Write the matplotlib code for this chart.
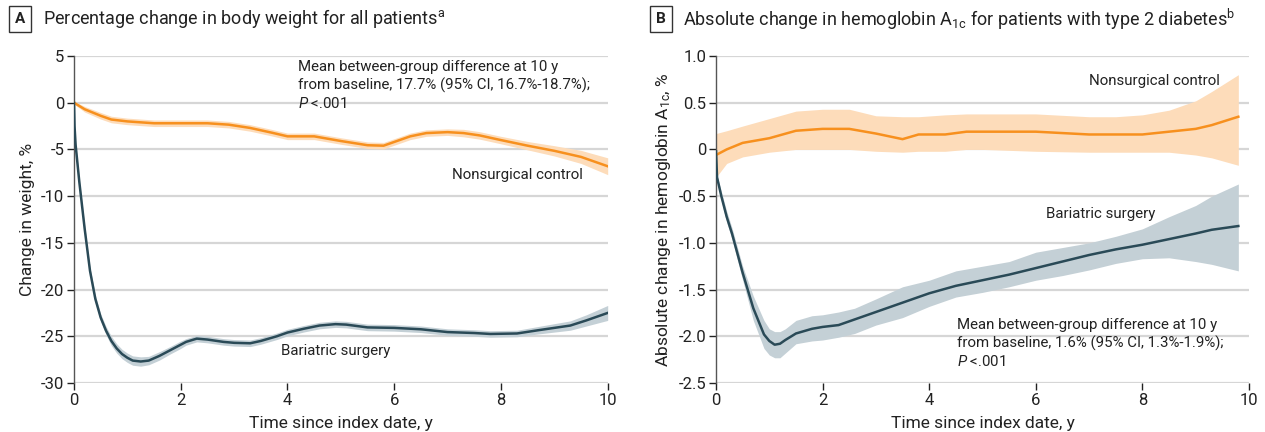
import matplotlib
matplotlib.use("Agg")
import matplotlib.pyplot as plt
import numpy as np

# Panel A: percentage change in body weight
a_ctrl_x = [0, 0.2, 0.5, 0.7, 1.0, 1.5, 2.0, 2.5, 2.9, 3.3, 3.7, 4.0, 4.5, 5.0, 5.5, 5.8, 6.0, 6.3, 6.6, 7.0, 7.3, 7.6, 8.0, 8.5, 9.0, 9.5, 10.0]
a_ctrl_y = [0, -0.7, -1.4, -1.8, -2.0, -2.2, -2.2, -2.2, -2.35, -2.7, -3.2, -3.6, -3.6, -4.1, -4.55, -4.6, -4.2, -3.6, -3.25, -3.15, -3.25, -3.5, -4.0, -4.6, -5.15, -5.8, -6.8]
a_ctrl_ci = [0.15, 0.3, 0.35, 0.35, 0.35, 0.35, 0.35, 0.35, 0.35, 0.35, 0.35, 0.35, 0.35, 0.35, 0.35, 0.35, 0.35, 0.35, 0.35, 0.35, 0.4, 0.4, 0.4, 0.45, 0.55, 0.7, 0.9]

a_surg_x = [0, 0.01, 0.03, 0.1, 0.2, 0.3, 0.4, 0.5, 0.6, 0.7, 0.8, 0.9, 1.0, 1.1, 1.25, 1.4, 1.6, 1.8, 2.0, 2.1, 2.3, 2.5, 2.8, 3.0, 3.3, 3.5, 3.8, 4.0, 4.3, 4.6, 4.9, 5.1, 5.5, 6.0, 6.5, 7.0, 7.5, 7.8, 8.3, 8.7, 9.0, 9.3, 9.6, 10.0]
a_surg_y = [0, -2.5, -4.5, -8.5, -13.5, -18.0, -21.0, -23.0, -24.4, -25.5, -26.3, -26.9, -27.3, -27.6, -27.7, -27.6, -27.1, -26.5, -25.9, -25.6, -25.25, -25.35, -25.6, -25.7, -25.75, -25.5, -25.0, -24.6, -24.2, -23.85, -23.7, -23.75, -24.05, -24.1, -24.25, -24.55, -24.65, -24.75, -24.7, -24.35, -24.1, -23.85, -23.3, -22.5]
a_surg_ci = [0, 0.1, 0.2, 0.3, 0.35, 0.35, 0.4, 0.4, 0.45, 0.5, 0.5, 0.5, 0.5, 0.5, 0.5, 0.45, 0.45, 0.4, 0.4, 0.35, 0.35, 0.35, 0.35, 0.35, 0.35, 0.35, 0.35, 0.35, 0.35, 0.35, 0.35, 0.35, 0.35, 0.35, 0.35, 0.35, 0.35, 0.35, 0.35, 0.4, 0.45, 0.5, 0.6, 0.8]

# Panel B: absolute change in hemoglobin A1c
b_ctrl_x = [0, 0.2, 0.5, 1.0, 1.5, 2.0, 2.5, 3.0, 3.5, 3.8, 4.3, 4.7, 5.0, 6.0, 7.0, 7.5, 8.0, 8.5, 9.0, 9.3, 9.8]
b_ctrl_y = [-0.06, 0.0, 0.07, 0.12, 0.2, 0.22, 0.22, 0.17, 0.11, 0.16, 0.16, 0.19, 0.19, 0.19, 0.16, 0.16, 0.16, 0.19, 0.22, 0.26, 0.35]
b_ctrl_lo = [-0.3, -0.15, -0.08, -0.03, 0.0, 0.0, 0.0, -0.02, -0.03, -0.02, -0.02, 0.0, 0.0, -0.02, -0.03, -0.03, -0.03, -0.03, -0.06, -0.09, -0.17]
b_ctrl_hi = [0.17, 0.2, 0.25, 0.33, 0.41, 0.43, 0.43, 0.36, 0.35, 0.35, 0.37, 0.38, 0.38, 0.38, 0.35, 0.35, 0.37, 0.42, 0.52, 0.62, 0.8]

b_surg_x = [0, 0.02, 0.1, 0.2, 0.3, 0.5, 0.7, 0.9, 1.0, 1.1, 1.2, 1.3, 1.5, 1.8, 2.0, 2.3, 2.6, 3.0, 3.5, 4.0, 4.5, 5.0, 5.5, 6.0, 6.5, 7.0, 7.5, 8.0, 8.5, 9.0, 9.3, 9.8]
b_surg_y = [-0.02, -0.3, -0.5, -0.72, -0.9, -1.32, -1.7, -1.98, -2.05, -2.09, -2.08, -2.04, -1.97, -1.92, -1.9, -1.88, -1.82, -1.74, -1.64, -1.54, -1.46, -1.4, -1.34, -1.27, -1.2, -1.13, -1.07, -1.02, -0.96, -0.9, -0.86, -0.82]
b_surg_lo = [-0.02, -0.32, -0.55, -0.78, -0.96, -1.4, -1.83, -2.13, -2.2, -2.23, -2.23, -2.18, -2.08, -2.05, -2.04, -2.01, -1.97, -1.88, -1.8, -1.68, -1.58, -1.53, -1.47, -1.4, -1.35, -1.29, -1.22, -1.17, -1.16, -1.2, -1.23, -1.3]
b_surg_hi = [-0.02, -0.28, -0.45, -0.66, -0.84, -1.25, -1.57, -1.83, -1.92, -1.95, -1.95, -1.92, -1.83, -1.78, -1.77, -1.74, -1.7, -1.6, -1.47, -1.4, -1.3, -1.25, -1.2, -1.1, -1.05, -1.0, -0.93, -0.85, -0.72, -0.6, -0.5, -0.37]

ORANGE = "#f7901e"
ORANGE_BAND = "#fddcba"
TEAL = "#2a4a57"
TEAL_BAND = "#c4d0d6"
GRID = "#d6d6d6"
TXT = "#222222"

plt.rcParams["font.family"] = ["Roboto", "DejaVu Sans"]
plt.rcParams["axes.unicode_minus"] = False
plt.rcParams["mathtext.fontset"] = "custom"
plt.rcParams["mathtext.rm"] = "Roboto"
plt.rcParams["mathtext.it"] = "Roboto:italic"
plt.rcParams["mathtext.bf"] = "Roboto:bold"

fig = plt.figure(figsize=(12.65, 4.32), dpi=100)
axA = fig.add_axes([74 / 1265, 1 - 383 / 432, 533.7 / 1265, 327 / 432])
axB = fig.add_axes([716 / 1265, 1 - 383 / 432, 533 / 1265, 327 / 432])


def style_axis(ax, yticks, ylim, labels):
    ax.set_xlim(0, 10)
    ax.set_ylim(*ylim)
    ax.set_yticks(yticks)
    ax.set_yticklabels(labels)
    ax.set_xticks([0, 2, 4, 6, 8, 10])
    for v in yticks:
        ax.axhline(v, color=GRID, lw=1.6, zorder=0)
    for s in ["top", "right", "bottom"]:
        ax.spines[s].set_visible(False)
    ax.spines["left"].set_color("#555555")
    ax.spines["left"].set_linewidth(1.0)
    ax.tick_params(axis="both", direction="out", length=5, width=1.0,
                   color="#222222", labelsize=12, labelcolor=TXT, pad=2)
    ax.set_xlabel("Time since index date, y", fontsize=12.5, color=TXT, labelpad=6)


# Panel A
a_ctrl_y = np.array(a_ctrl_y)
a_surg_y = np.array(a_surg_y)
axA.fill_between(a_ctrl_x, a_ctrl_y - np.array(a_ctrl_ci), a_ctrl_y + np.array(a_ctrl_ci),
                 color=ORANGE_BAND, lw=0, zorder=1)
axA.fill_between(a_surg_x, a_surg_y - np.array(a_surg_ci), a_surg_y + np.array(a_surg_ci),
                 color=TEAL_BAND, lw=0, zorder=1)
axA.plot(a_ctrl_x, a_ctrl_y, color=ORANGE, lw=1.8, zorder=3)
axA.plot(a_surg_x, a_surg_y, color=TEAL, lw=1.8, zorder=3)
a_ticks = [5, 0, -5, -10, -15, -20, -25, -30]
style_axis(axA, a_ticks, (-30, 5), [str(v) for v in a_ticks])
axA.set_ylabel("Change in weight, %", fontsize=12.5, color=TXT, labelpad=4)
axA.text(4.2, 4.6, "Mean between-group difference at 10 y\nfrom baseline, 17.7% (95% CI, 16.7%-18.7%);\n$\\mathit{P}$ <.001",
         fontsize=10.8, color=TXT, va="top", ha="left", linespacing=1.3)
axA.text(7.08, -7.75, "Nonsurgical control", fontsize=10.8, color=TXT, va="center", ha="left")
axA.text(3.88, -26.6, "Bariatric surgery", fontsize=10.8, color=TXT, va="center", ha="left")

# Panel B
axB.fill_between(b_ctrl_x, b_ctrl_lo, b_ctrl_hi, color=ORANGE_BAND, lw=0, zorder=1)
axB.fill_between(b_surg_x, b_surg_lo, b_surg_hi, color=TEAL_BAND, lw=0, zorder=1)
axB.plot(b_ctrl_x, b_ctrl_y, color=ORANGE, lw=1.8, zorder=3)
axB.plot(b_surg_x, b_surg_y, color=TEAL, lw=1.8, zorder=3)
b_ticks = [1.0, 0.5, 0, -0.5, -1.0, -1.5, -2.0, -2.5]
style_axis(axB, b_ticks, (-2.5, 1.0), ["1.0", "0.5", "0", "-0.5", "-1.0", "-1.5", "-2.0", "-2.5"])
axB.set_ylabel("Absolute change in hemoglobin A$_{\\mathrm{1c}}$, %", fontsize=12.5, color=TXT, labelpad=4)
axB.text(7.0, 0.73, "Nonsurgical control", fontsize=10.8, color=TXT, va="center", ha="left")
axB.text(6.2, -0.69, "Bariatric surgery", fontsize=10.8, color=TXT, va="center", ha="left")
axB.text(4.52, -1.8, "Mean between-group difference at 10 y\nfrom baseline, 1.6% (95% CI, 1.3%-1.9%);\n$\\mathit{P}$ <.001",
         fontsize=10.8, color=TXT, va="top", ha="left", linespacing=1.3)

# Panel titles
box = dict(boxstyle="square,pad=0.4", fc="white", ec="#333333", lw=1.0)
fig.text(20 / 1265, 1 - 19 / 432, "A", fontsize=11, fontweight="bold", ha="center", va="center",
         color=TXT, bbox=box)
fig.text(43 / 1265, 1 - 19 / 432, "Percentage change in body weight for all patients$^{\\mathrm{a}}$",
         fontsize=13, ha="left", va="center", color=TXT)
fig.text(661 / 1265, 1 - 19 / 432, "B", fontsize=11, fontweight="bold", ha="center", va="center",
         color=TXT, bbox=box)
fig.text(683 / 1265, 1 - 19 / 432,
         "Absolute change in hemoglobin A$_{\\mathrm{1c}}$ for patients with type 2 diabetes$^{\\mathrm{b}}$",
         fontsize=13, ha="left", va="center", color=TXT)

fig.savefig("out.png", dpi=100)
